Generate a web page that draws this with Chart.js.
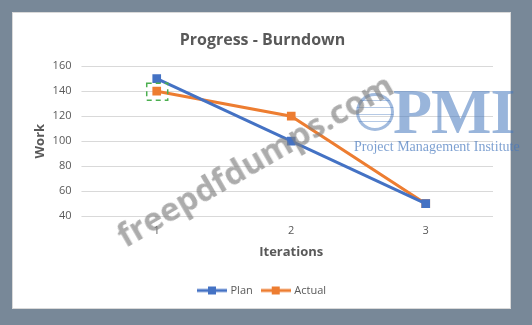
<!DOCTYPE html>
<html>
<head>
<meta charset="utf-8">
<script src="https://cdn.jsdelivr.net/npm/chart.js@4"></script>
<style>
  html, body { margin: 0; padding: 0; }
  body { width: 532px; height: 325px; background: #788898; position: relative; overflow: hidden; }
  #panel { position: absolute; left: 12px; top: 12px; width: 497px; height: 295px; background: #fff; border: 1px solid #d9d9d9; }
  #panel canvas { display: block; }
  .wm { position: absolute; pointer-events: none; white-space: nowrap; }
  #wm1 { left: 108px; top: 218px; font: bold 33px "Open Sans", sans-serif; color: rgba(128,128,128,0.65); transform: rotate(-30deg); transform-origin: left top; }
  #wm2 { left: 354px; top: 139px; font: 14px "Liberation Serif", serif; color: rgba(70,120,190,0.7); }
  #wm3 { left: 393px; top: 81px; font: bold 64px "Liberation Serif", serif; color: rgba(70,120,190,0.55); letter-spacing: -1px; line-height: 62px; }
  #globe { left: 356px; top: 93px; width: 38px; height: 38px; border-radius: 50%; border: 3px solid rgba(70,120,190,0.5); box-sizing: border-box;
    background: repeating-linear-gradient(0deg, transparent 0 6px, rgba(70,120,190,0.4) 6px 7px); }
</style>
</head>
<body>
<div id="panel"><canvas id="chart" width="497" height="295"></canvas></div>
<div class="wm" id="globe"></div>
<div class="wm" id="wm3">PMI</div>
<div class="wm" id="wm2">Project Management Institute</div>
<div class="wm" id="wm1">freepdfdumps.com</div>
<script>
const iterations = ['1', '2', '3'];
const planWork = [150, 100, 50];
const actualWork = [140, 120, 50];
const seriesNames = ['Plan', 'Actual'];
const seriesColors = ['#4472C4', '#ED7D31'];

// legend marker: line with a square in the middle (Excel style)
function legendIcon(color) {
  const c = document.createElement('canvas');
  c.width = 30; c.height = 10;
  const g = c.getContext('2d');
  g.strokeStyle = color; g.lineWidth = 3;
  g.beginPath(); g.moveTo(0, 5); g.lineTo(30, 5); g.stroke();
  g.fillStyle = color; g.fillRect(11, 1, 8, 8);
  return c;
}

// dashed selection box around first Actual point
const selectionBox = {
  id: 'selectionBox',
  afterDatasetsDraw(chart) {
    const x = chart.scales.x.getPixelForValue(0);
    const y = chart.scales.y.getPixelForValue(actualWork[0]);
    const ctx = chart.ctx;
    ctx.save();
    ctx.strokeStyle = '#4CAF50';
    ctx.lineWidth = 1.5;
    ctx.setLineDash([5, 4]);
    ctx.strokeRect(x - 10, y - 8, 21, 17);
    ctx.restore();
  }
};

new Chart(document.getElementById('chart'), {
  type: 'line',
  data: {
    labels: iterations,
    datasets: [
      { label: seriesNames[0], data: planWork, borderColor: seriesColors[0], backgroundColor: seriesColors[0],
        borderWidth: 3, pointStyle: 'rect', pointRadius: 4, tension: 0 },
      { label: seriesNames[1], data: actualWork, borderColor: seriesColors[1], backgroundColor: seriesColors[1],
        borderWidth: 3, pointStyle: 'rect', pointRadius: 4, tension: 0 }
    ]
  },
  options: {
    responsive: false,
    animation: false,
    layout: { padding: { left: 19, right: 17, top: 14, bottom: 2 } },
    plugins: {
      title: { display: true, text: 'Progress - Burndown', color: '#595959',
        font: { family: 'Open Sans', size: 16, weight: 'bold' }, padding: { top: 4, bottom: 16 } },
      legend: {
        position: 'bottom',
        labels: {
          color: '#595959', font: { family: 'Open Sans', size: 11 }, usePointStyle: true,
          pointStyleWidth: 26, boxHeight: 10, padding: 10,
          generateLabels(chart) {
            return chart.data.datasets.map((d, i) => ({
              text: d.label, pointStyle: legendIcon(seriesColors[i]), fontColor: '#595959',
              datasetIndex: i, hidden: false, lineWidth: 0, strokeStyle: 'transparent', fillStyle: seriesColors[i]
            }));
          }
        }
      },
      tooltip: { enabled: false }
    },
    scales: {
      x: {
        offset: true,
        grid: { display: false },
        border: { display: false },
        ticks: { color: '#595959', font: { family: 'Open Sans', size: 11 }, padding: 0 },
        title: { display: true, text: 'Iterations', color: '#595959',
          font: { family: 'Open Sans', size: 13, weight: 'bold' }, padding: { top: 7, bottom: 15 } }
      },
      y: {
        min: 40, max: 160,
        ticks: { stepSize: 20, color: '#595959', font: { family: 'Open Sans', size: 11 }, padding: 10 },
        grid: { color: '#d9d9d9' },
        border: { display: false },
        title: { display: true, text: 'Work', color: '#595959',
          font: { family: 'Open Sans', size: 13, weight: 'bold' }, padding: { top: 0, bottom: -5 } }
      }
    }
  },
  plugins: [selectionBox]
});
</script>
</body>
</html>
